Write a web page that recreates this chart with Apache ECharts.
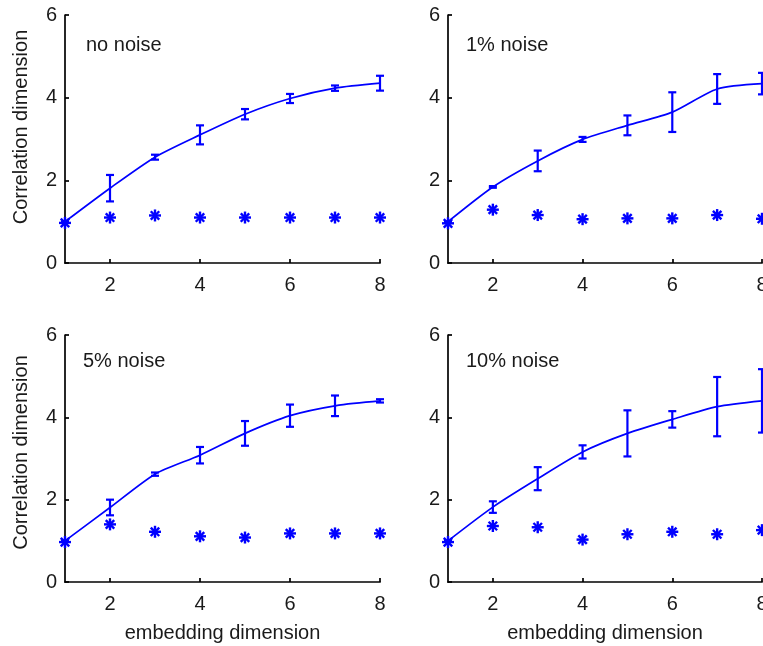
<!DOCTYPE html>
<html>
<head>
<meta charset="utf-8">
<style>
  html, body { margin: 0; padding: 0; background: #fff; }
  #chart { width: 763px; height: 646px; }
</style>
<script src="https://cdn.jsdelivr.net/npm/echarts@6/dist/echarts.min.js"></script>
</head>
<body>
<div id="chart"></div>
<script>
// Embedding dimensions (x) and tick positions
const dims = [1, 2, 3, 4, 5, 6, 7, 8];
const xTicks = [2, 4, 6, 8];

const panelTitles = ['no noise', '1% noise', '5% noise', '10% noise'];

// Mean correlation dimension, its error half-width, and the surrogate (asterisk) values
const meanNoNoise = [1.00, 1.81, 2.56, 3.10, 3.60, 3.98, 4.23, 4.35];
const errNoNoise  = [0, 0.32, 0.06, 0.23, 0.125, 0.11, 0.065, 0.18];
const starNoNoise = [0.97, 1.10, 1.15, 1.10, 1.10, 1.10, 1.10, 1.10];

const mean1 = [1.00, 1.84, 2.47, 2.99, 3.33, 3.65, 4.21, 4.34];
const err1  = [0, 0.02, 0.25, 0.06, 0.24, 0.48, 0.36, 0.26];
const star1 = [0.96, 1.29, 1.16, 1.06, 1.08, 1.08, 1.16, 1.07];

const mean5 = [1.00, 1.81, 2.62, 3.08, 3.61, 4.04, 4.28, 4.40];
const err5  = [0, 0.19, 0.04, 0.20, 0.30, 0.27, 0.25, 0.04];
const star5 = [0.97, 1.40, 1.22, 1.11, 1.08, 1.18, 1.18, 1.18];

const mean10 = [1.00, 1.82, 2.51, 3.16, 3.61, 3.95, 4.26, 4.40];
const err10  = [0, 0.14, 0.28, 0.16, 0.56, 0.20, 0.72, 0.77];
const star10 = [0.97, 1.36, 1.33, 1.03, 1.16, 1.22, 1.16, 1.26];

const panels = [
  { mean: meanNoNoise, err: errNoNoise, star: starNoNoise },
  { mean: mean1, err: err1, star: star1 },
  { mean: mean5, err: err5, star: star5 },
  { mean: mean10, err: err10, star: star10 }
];

const BLUE = '#0000ff';
const TEXT = '#1a1a1a';
const FONT = '"Liberation Sans", Arial, Helvetica, sans-serif';

const grids = [
  { left: 65,  width: 315, top: 15,  height: 248 },
  { left: 448, width: 314, top: 15,  height: 248 },
  { left: 65,  width: 315, top: 335, height: 247 },
  { left: 448, width: 314, top: 335, height: 247 }
].map(g => Object.assign(g, { outerBoundsMode: 'none', containLabel: false }));

const titlePos = [
  { left: 86,  top: 35 },
  { left: 466, top: 35 },
  { left: 83,  top: 351 },
  { left: 466, top: 351 }
];

const axisLineStyle = { color: '#000', width: 1.7 };

const xAxes = grids.map((g, i) => ({
  type: 'value',
  gridIndex: i,
  min: 1,
  max: 8,
  splitLine: { show: false },
  axisLine: { show: true, onZero: false, lineStyle: axisLineStyle },
  axisTick: { show: true, inside: true, length: 4, lineStyle: axisLineStyle, customValues: xTicks },
  axisLabel: { show: true, margin: 12, fontSize: 20, color: TEXT, fontFamily: FONT, customValues: xTicks },
  name: i >= 2 ? 'embedding dimension' : '',
  nameLocation: 'middle',
  nameGap: 41,
  nameTextStyle: { fontSize: 20, color: TEXT, fontFamily: FONT }
}));

const yAxes = grids.map((g, i) => ({
  type: 'value',
  gridIndex: i,
  min: 0,
  max: 6,
  interval: 2,
  splitLine: { show: false },
  axisLine: { show: true, onZero: false, lineStyle: axisLineStyle },
  axisTick: { show: true, inside: true, length: 4, lineStyle: axisLineStyle },
  axisLabel: { show: true, margin: 8, fontSize: 20, color: TEXT, fontFamily: FONT },
  name: i % 2 === 0 ? 'Correlation dimension' : '',
  nameLocation: 'middle',
  nameGap: 34,
  nameTextStyle: {
    fontSize: 20, color: TEXT, fontFamily: FONT,
    padding: i === 0 ? [0, 0, 0, 24] : [0, 0, 0, 12]
  }
}));

const series = [];
panels.forEach((p, i) => {
  // mean curve
  series.push({
    type: 'line',
    xAxisIndex: i,
    yAxisIndex: i,
    data: dims.map((d, k) => [d, p.mean[k]]),
    smooth: 0.25,
    showSymbol: false,
    lineStyle: { color: BLUE, width: 1.7 },
    z: 2
  });
  // error bars with caps
  series.push({
    type: 'custom',
    xAxisIndex: i,
    yAxisIndex: i,
    data: dims.map((d, k) => [d, p.mean[k] - p.err[k], p.mean[k] + p.err[k]]),
    renderItem: function (params, api) {
      const lo = api.coord([api.value(0), api.value(1)]);
      const hi = api.coord([api.value(0), api.value(2)]);
      const cap = 4;
      const style = { stroke: BLUE, lineWidth: 2.2, fill: null };
      return {
        type: 'group',
        children: [
          { type: 'line', shape: { x1: lo[0], y1: lo[1], x2: hi[0], y2: hi[1] }, style: style },
          { type: 'line', shape: { x1: lo[0] - cap, y1: lo[1], x2: lo[0] + cap, y2: lo[1] }, style: style },
          { type: 'line', shape: { x1: hi[0] - cap, y1: hi[1], x2: hi[0] + cap, y2: hi[1] }, style: style }
        ]
      };
    },
    z: 3
  });
  // asterisk markers
  series.push({
    type: 'custom',
    xAxisIndex: i,
    yAxisIndex: i,
    data: dims.map((d, k) => [d, p.star[k]]),
    renderItem: function (params, api) {
      const c = api.coord([api.value(0), api.value(1)]);
      const r = 6;
      const q = r * 0.7071;
      const style = { stroke: BLUE, lineWidth: 2.4, fill: null };
      return {
        type: 'group',
        children: [
          { type: 'line', shape: { x1: c[0] - r, y1: c[1], x2: c[0] + r, y2: c[1] }, style: style },
          { type: 'line', shape: { x1: c[0], y1: c[1] - r, x2: c[0], y2: c[1] + r }, style: style },
          { type: 'line', shape: { x1: c[0] - q, y1: c[1] - q, x2: c[0] + q, y2: c[1] + q }, style: style },
          { type: 'line', shape: { x1: c[0] - q, y1: c[1] + q, x2: c[0] + q, y2: c[1] - q }, style: style }
        ]
      };
    },
    z: 4
  });
});

const chart = echarts.init(document.getElementById('chart'), null, { renderer: 'canvas' });
chart.setOption({
  animation: false,
  backgroundColor: '#fff',
  textStyle: { fontFamily: FONT },
  title: panelTitles.map((t, i) => ({
    text: t,
    left: titlePos[i].left,
    top: titlePos[i].top,
    padding: 0,
    textStyle: { fontSize: 20, fontWeight: 'normal', color: TEXT, fontFamily: FONT }
  })),
  grid: grids,
  xAxis: xAxes,
  yAxis: yAxes,
  series: series
});
</script>
</body>
</html>
